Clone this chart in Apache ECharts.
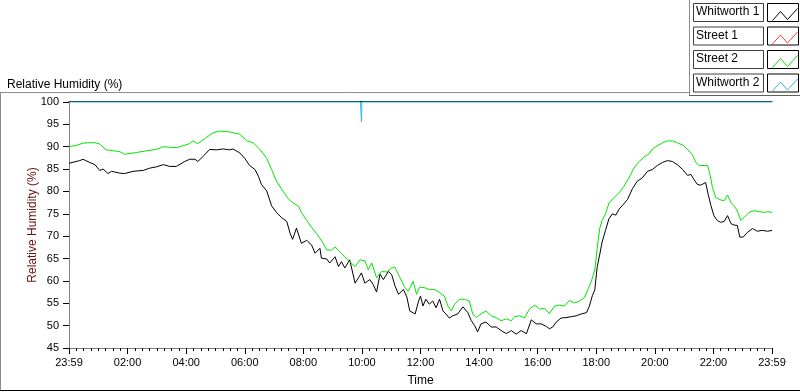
<!DOCTYPE html>
<html>
<head>
<meta charset="utf-8">
<script src="https://cdn.jsdelivr.net/npm/echarts@6/dist/echarts.min.js"></script>
<style>
  html, body { margin: 0; padding: 0; background: #fff; }
  #chart { width: 800px; height: 392px; }
</style>
</head>
<body>
<div id="chart"></div>
<script>
// minutes after 23:59, RH %
const timeLabels = ['23:59', '02:00', '04:00', '06:00', '08:00', '10:00', '12:00',
  '14:00', '16:00', '18:00', '20:00', '22:00', '23:59'];

const whitworth1 = [
  [0, 86.3], [22, 86.9], [29, 87.2], [42, 86.5], [53, 86.0], [63, 84.7], [70, 85.0], [80, 84.0],
  [87, 84.5], [104, 84.1], [114, 84.0], [131, 84.5], [152, 84.7], [165, 85.2], [179, 85.5],
  [193, 86.0], [206, 85.6], [220, 85.6], [237, 86.7], [247, 87.2], [258, 87.2], [264, 86.7],
  [278, 88.2], [288, 89.4], [302, 89.3], [316, 89.5], [329, 89.3], [336, 89.5], [350, 88.6],
  [360, 87.4], [370, 85.8], [381, 84.9], [388, 83.4], [394, 81.6], [405, 80.1], [415, 76.8],
  [425, 75.3], [435, 74.2], [446, 73.3], [453, 70.6], [458, 69.3], [466, 71.8], [476, 68.4],
  [487, 69.1], [497, 68.0], [504, 66.2], [514, 67.3], [517, 65.1], [528, 64.9], [534, 64.0],
  [545, 65.4], [552, 63.2], [558, 64.3], [565, 62.9], [575, 64.7], [586, 59.5], [593, 60.7],
  [599, 61.8], [606, 59.5], [616, 60.3], [623, 59.2], [630, 57.5], [637, 61.5], [644, 60.3],
  [654, 62.1], [661, 61.4], [668, 58.8], [675, 57.0], [685, 58.1], [692, 56.4], [698, 53.3],
  [709, 52.6], [716, 55.5], [720, 56.6], [725, 54.4], [731, 55.9], [738, 54.8], [745, 55.5],
  [752, 54.0], [759, 55.9], [766, 53.3], [772, 52.6], [779, 51.7], [786, 52.2], [796, 52.6],
  [807, 54.2], [817, 52.9], [824, 51.1], [831, 50.0], [837, 48.6], [844, 50.4], [854, 50.8],
  [865, 49.7], [875, 49.7], [885, 48.9], [896, 48.2], [906, 48.9], [916, 48.1], [926, 48.9],
  [937, 48.2], [947, 51.3], [957, 50.4], [967, 50.4], [978, 49.8], [984, 49.3], [991, 49.7],
  [998, 50.8], [1008, 51.7], [1018, 51.8], [1029, 52.0], [1039, 52.2], [1049, 52.6], [1060, 52.9],
  [1066, 54.4], [1072, 56.7], [1077, 58.0], [1082, 63.2], [1087, 65.8], [1092, 68.7], [1099, 71.3],
  [1106, 73.9], [1113, 75.0], [1120, 74.7], [1127, 76.1], [1133, 76.8], [1144, 78.2], [1154, 80.6],
  [1164, 82.3], [1174, 83.0], [1185, 84.5], [1195, 84.9], [1205, 85.8], [1216, 86.5], [1226, 86.9],
  [1236, 86.7], [1246, 86.0], [1257, 84.9], [1267, 83.6], [1274, 83.8], [1280, 82.7], [1287, 81.6],
  [1294, 81.4], [1304, 82.0], [1310, 79.0], [1315, 76.8], [1321, 74.6], [1328, 73.5], [1335, 73.1],
  [1342, 73.3], [1349, 74.6], [1356, 72.8], [1362, 72.5], [1369, 72.4], [1374, 69.8], [1381, 69.8],
  [1390, 70.9], [1400, 71.7], [1410, 71.1], [1420, 71.3], [1431, 71.1], [1440, 71.3]
];

const street1 = [];

const street2 = [
  [0, 90.0], [15, 90.3], [29, 90.8], [42, 90.9], [53, 90.9], [63, 90.6], [76, 89.3], [104, 88.9],
  [114, 88.3], [138, 88.7], [159, 89.1], [179, 89.4], [193, 90.0], [220, 89.8], [233, 90.2],
  [247, 90.7], [254, 91.3], [264, 90.7], [278, 91.8], [295, 93.1], [308, 93.5], [329, 93.3],
  [350, 92.8], [364, 91.3], [377, 90.9], [391, 89.4], [405, 87.4], [415, 84.9], [425, 82.3],
  [435, 80.6], [449, 78.4], [459, 77.4], [470, 76.8], [476, 75.3], [487, 73.5], [497, 72.0],
  [507, 70.6], [517, 69.1], [528, 66.9], [538, 66.9], [545, 67.6], [555, 66.5], [565, 65.4],
  [575, 64.3], [586, 63.2], [596, 64.7], [606, 64.5], [613, 62.5], [620, 64.0], [630, 60.7],
  [640, 62.1], [651, 62.0], [661, 62.9], [668, 63.0], [678, 60.7], [688, 58.5], [695, 57.7],
  [705, 59.9], [712, 57.0], [718, 58.6], [728, 58.5], [738, 58.1], [749, 58.1], [759, 57.4],
  [769, 56.6], [776, 54.4], [783, 53.3], [790, 54.8], [800, 55.9], [810, 55.9], [820, 55.5],
  [827, 52.6], [834, 51.8], [844, 52.6], [854, 53.3], [865, 52.2], [875, 51.8], [885, 51.1],
  [896, 51.5], [906, 51.1], [913, 52.0], [923, 52.2], [933, 51.7], [943, 53.7], [954, 54.6],
  [964, 53.7], [974, 53.9], [984, 52.7], [995, 54.4], [1005, 54.6], [1015, 54.4], [1025, 55.6],
  [1036, 55.1], [1046, 55.5], [1056, 56.3], [1063, 58.1], [1070, 59.9], [1077, 62.5], [1082, 67.3],
  [1087, 71.7], [1092, 73.5], [1099, 75.0], [1106, 77.4], [1116, 78.6], [1127, 79.7], [1137, 81.2],
  [1147, 83.0], [1157, 85.2], [1168, 86.7], [1178, 87.7], [1188, 88.4], [1195, 89.5], [1205, 90.2],
  [1216, 90.9], [1226, 91.3], [1236, 91.3], [1246, 90.9], [1257, 90.4], [1267, 89.4], [1277, 88.2],
  [1284, 86.5], [1291, 85.8], [1301, 85.8], [1308, 85.8], [1313, 83.8], [1318, 80.9], [1325, 78.6],
  [1335, 78.1], [1342, 77.9], [1349, 79.2], [1356, 77.5], [1362, 76.8], [1369, 75.7], [1376, 73.5],
  [1383, 74.2], [1393, 75.3], [1403, 75.7], [1414, 75.5], [1424, 75.3], [1431, 75.5], [1440, 75.3]
];

const whitworth2 = [
  [0, 100], [597, 100], [598, 97.9], [599, 95.6], [600, 100], [1440, 100]
];

const seriesNames = ['Whitworth 1', 'Street 1', 'Street 2', 'Whitworth 2'];
const seriesColors = ['#000000', '#ff3b3b', '#00e600', '#33b5f0'];
const seriesData = [whitworth1, street1, street2, whitworth2];

const FONT = 'Liberation Sans, Arial, sans-serif';

// legend drawn as boxed labels with a zigzag swatch (LabVIEW style)
function legendGraphics() {
  const items = [];
  seriesNames.forEach((name, i) => {
    const top = 3 + i * 23.5;
    items.push({
      type: 'rect', left: 693, top: top,
      shape: { width: 70, height: 18 },
      style: { fill: '#fff', stroke: '#404040', lineWidth: 1 }
    });
    items.push({
      type: 'text', left: 696, top: top + 3,
      style: { text: name, font: '12px ' + FONT, fill: '#000' }
    });
    items.push({
      type: 'rect', left: 767, top: top,
      shape: { width: 31, height: 18 },
      style: { fill: '#fff', stroke: '#000', lineWidth: 1 }
    });
    items.push({
      type: 'polyline', left: 770, top: top + 3,
      shape: { points: [[0, 12], [8, 3], [15, 11], [25, 0]] },
      style: { stroke: seriesColors[i], lineWidth: 1, fill: null }
    });
  });
  return items;
}

const chart = echarts.init(document.getElementById('chart'), null, { renderer: 'canvas' });

const option = {
  animation: false,
  backgroundColor: '#fff',
  textStyle: { fontFamily: FONT },
  title: {
    text: 'Relative Humidity (%)',
    left: 2, top: 74,
    textStyle: { fontSize: 12, fontWeight: 'normal', color: '#000', fontFamily: FONT }
  },
  grid: { left: 69, right: 28, top: 102, bottom: 40, show: false },
  xAxis: [{
    type: 'value',
    min: 0, max: 1440, interval: 120,
    name: 'Time', nameLocation: 'middle', nameGap: 27,
    nameTextStyle: { fontSize: 12, color: '#000' },
    axisLine: { lineStyle: { color: '#808080' } },
    axisTick: { length: 6, lineStyle: { color: '#000' } },
    minorTick: { show: true, splitNumber: 8, length: 3, lineStyle: { color: '#000' } },
    axisLabel: {
      fontSize: 11, color: '#000', margin: 9,
      formatter: v => timeLabels[Math.round(v / 120)]
    },
    splitLine: { show: false }
  }, {
    type: 'value', position: 'top', offset: 1,
    min: 0, max: 1440,
    axisLine: { lineStyle: { color: '#000' } },
    axisTick: { show: false }, axisLabel: { show: false }, splitLine: { show: false }
  }],
  yAxis: [{
    type: 'value',
    min: 45, max: 100, interval: 5,
    name: 'Relative Humidity (%)', nameLocation: 'middle', nameGap: 30,
    nameMoveOverlap: false,
    nameTextStyle: { fontSize: 12, color: '#6b0f0f' },
    axisLine: { show: true, lineStyle: { color: '#000' } },
    axisTick: { show: true, length: 6, lineStyle: { color: '#000' } },
    axisLabel: { fontSize: 11, color: '#000', margin: 10 },
    splitLine: { show: false }
  }, {
    type: 'value', position: 'right',
    min: 45, max: 100,
    axisLine: { show: true, lineStyle: { color: '#808080' } },
    axisTick: { show: false }, axisLabel: { show: false }, splitLine: { show: false }
  }],
  series: seriesNames.map((name, i) => ({
    name: name,
    type: 'line',
    data: seriesData[i],
    showSymbol: false,
    symbol: 'none',
    clip: false,
    lineStyle: { width: 1, color: seriesColors[i] },
    itemStyle: { color: seriesColors[i] }
  })),
  graphic: [
    // frame lines around the plot panel
    { type: 'line', shape: { x1: 0, y1: 92.5, x2: 689, y2: 92.5 }, style: { stroke: '#8c8c8c', lineWidth: 1 } },
    { type: 'line', shape: { x1: 689.5, y1: 0, x2: 689.5, y2: 95 }, style: { stroke: '#8c8c8c', lineWidth: 1 } },
    { type: 'line', shape: { x1: 689, y1: 95.5, x2: 800, y2: 95.5 }, style: { stroke: '#606060', lineWidth: 1 } },
    { type: 'line', shape: { x1: 0.5, y1: 92, x2: 0.5, y2: 391 }, style: { stroke: '#8c8c8c', lineWidth: 1 } },
    { type: 'line', shape: { x1: 0, y1: 390.5, x2: 800, y2: 390.5 }, style: { stroke: '#000', lineWidth: 1 } }
  ].concat(legendGraphics())
};

chart.setOption(option);
</script>
</body>
</html>
